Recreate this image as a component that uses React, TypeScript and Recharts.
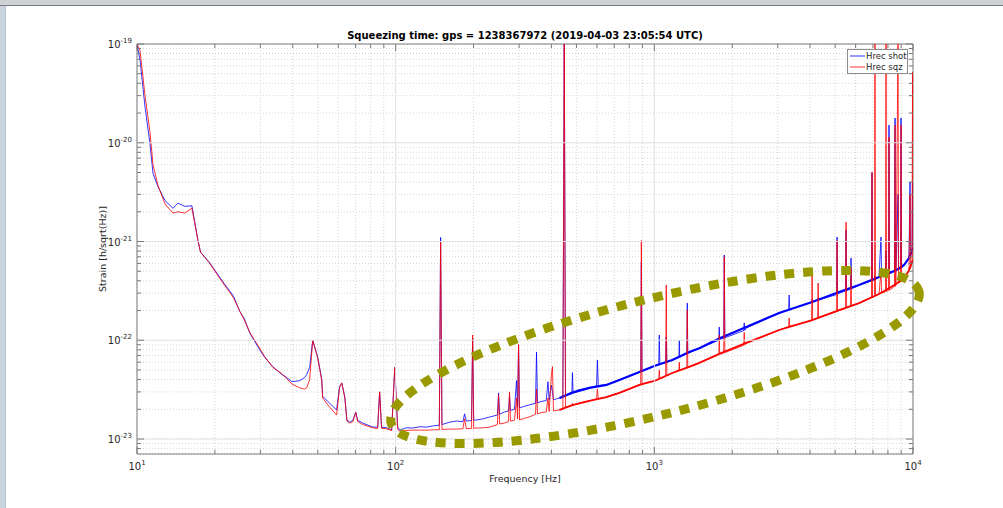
import React from 'react';
import { LineChart, Line, XAxis, YAxis, CartesianGrid, ReferenceArea } from 'recharts';

// Strain ASD: [Hz], shot-noise reference, squeezed
const freqHz = [
  // 10 - 100 Hz
  10, 10.27, 10.74, 11.22, 11.53, 12.05, 12.83, 13.77, 14.4, 15.3,
  16.3, 17.2, 17.6, 19.0, 21.5, 23.6, 25.0, 26.0, 27.3, 29.9,
  31.2, 33.5, 36.3, 37.9, 39.7, 42.6, 44.5, 45.3, 46.5, 47.8,
  50.0, 51.8, 52.2, 55.6, 59.1, 60.7, 61.9, 63.6, 64.8, 66.5,
  68.3, 70.1, 71.3, 74.6, 81.5, 85.2, 86.7, 88.2, 92.2, 96.5,
  99.2, 101.8,
  // 100 - 450 Hz
  103.6, 110, 116.3, 124, 131.7, 140, 147.5, 149.2, 151, 161.6,
  172, 182, 184.7, 187.5, 196.5, 198.4, 200.3, 205.5, 218, 230.7,
  247.5, 249.9, 252.3, 263.6, 273, 275.5, 278, 288, 293.3, 296,
  298.6, 301.2, 315, 330, 347.3, 350.4, 353.5, 365, 382, 388,
  392, 400, 403.9, 407.4, 418, 430, 443, 448.5, 453.5,
  // 450 - 1000 Hz
  466, 480, 482.5, 485, 510, 540, 561, 598, 602.6, 607,
  652.8, 690, 732.6, 800, 875, 886, 890.9, 896, 940, 1000,
  // 1 - 10 kHz
  1040, 1045, 1050, 1106, 1112, 1118, 1173, 1245, 1249, 1253,
  1335, 1341, 1347, 1492, 1775, 1782, 1790, 1855, 1864, 1873,
  2215, 2226, 2237, 2266, 3038, 3305, 3321, 3337, 4055, 4074,
  4093, 4280, 4298, 4316, 5065, 5088, 5110, 5180, 5485, 5511,
  5537, 5735, 5760, 5785, 6186, 6910, 6944, 6975, 7100, 7130,
  7160, 7390, 7522, 7560, 7830, 7864, 7900, 8040, 8077, 8110,
  8480, 8522, 8560, 8598, 8753, 8790, 8950, 8990, 9030, 9234,
  9650, 9738, 9780, 9911, 9960, 10000,
];

const shotAsd = [
  1.0e-19, 6.9e-20, 2.3e-20, 9.9e-21, 4.9e-21, 3.6e-21, 2.6e-21, 2.17e-21, 2.45e-21, 2.27e-21,
  2.3e-21, 1.03e-21, 7.8e-22, 6.2e-22, 3.9e-22, 2.8e-22, 1.95e-22, 1.65e-22, 1.18e-22, 7.9e-23,
  6.7e-23, 5.4e-23, 4.5e-23, 4.2e-23, 3.8e-23, 3.9e-23, 4.2e-23, 4.5e-23, 5.3e-23, 1.0e-22,
  6.7e-23, 4.0e-23, 2.7e-23, 2.3e-23, 1.97e-23, 3.4e-23, 3.7e-23, 2.66e-23, 1.55e-23, 1.48e-23,
  1.55e-23, 1.87e-23, 1.55e-23, 1.45e-23, 1.32e-23, 1.32e-23, 3.0e-23, 1.32e-23, 1.3e-23, 1.23e-23,
  5.3e-23, 1.32e-23,
  1.23e-23, 1.3e-23, 1.29e-23, 1.33e-23, 1.32e-23, 1.36e-23, 1.38e-23, 1.1e-21, 1.4e-23, 1.48e-23,
  1.52e-23, 1.5e-23, 1.8e-23, 1.52e-23, 1.54e-23, 1.05e-22, 1.55e-23, 1.56e-23, 1.6e-23, 1.67e-23,
  1.75e-23, 2.93e-23, 1.78e-23, 1.88e-23, 1.92e-23, 2.7e-23, 1.95e-23, 2.0e-23, 3.9e-23, 2.1e-23,
  9.0e-23, 2.06e-23, 2.15e-23, 2.22e-23, 2.3e-23, 7.6e-23, 2.32e-23, 2.4e-23, 2.45e-23, 3.8e-23,
  2.5e-23, 3.5e-23, 3.0e-23, 2.5e-23, 2.55e-23, 2.6e-23, 2.62e-23, 1.2e-19, 2.8e-23,
  2.85e-23, 2.95e-23, 4.7e-23, 3.0e-23, 3.15e-23, 3.25e-23, 3.3e-23, 3.45e-23, 6.3e-23, 3.47e-23,
  3.55e-23, 3.75e-23, 3.96e-23, 4.3e-23, 4.75e-23, 4.8e-23, 6.2e-22, 4.85e-23, 5.1e-23, 5.5e-23,
  5.7e-23, 1.13e-22, 5.75e-23, 6.0e-23, 1.08e-22, 6.05e-23, 6.3e-23, 6.7e-23, 1.0e-22, 6.75e-23,
  7.3e-23, 2.38e-22, 7.35e-23, 8.3e-23, 1.0e-22, 1.36e-22, 1.02e-22, 1.05e-22, 7.3e-22, 1.06e-22,
  1.25e-22, 1.5e-22, 1.26e-22, 1.33e-22, 1.89e-22, 2.05e-22, 2.87e-22, 2.06e-22, 2.42e-22, 2.6e-22,
  2.45e-22, 2.55e-22, 2.7e-22, 2.56e-22, 2.9e-22, 1.11e-21, 2.92e-22, 3.0e-22, 3.15e-22, 1.31e-21,
  3.18e-22, 3.3e-22, 6.8e-22, 3.32e-22, 3.62e-22, 4.0e-22, 5.0e-21, 4.02e-22, 4.1e-22, 4.5e-22,
  4.12e-22, 4.37e-22, 1.11e-21, 4.4e-22, 4.6e-22, 8.0e-22, 4.62e-22, 4.7e-22, 1.51e-20, 4.72e-22,
  5.0e-22, 1.78e-20, 5.0e-22, 5.1e-22, 3.0e-21, 5.2e-22, 5.3e-22, 1.78e-20, 5.35e-22, 5.8e-22,
  6.8e-22, 4.0e-21, 7.0e-22, 8.2e-22, 4.0e-21, 8.4e-22,
];

const sqzAsd = [
  1.0e-19, 8.6e-20, 3.0e-20, 1.3e-20, 6.0e-21, 3.7e-21, 2.4e-21, 1.94e-21, 2.0e-21, 1.94e-21,
  2.17e-21, 1.03e-21, 7.8e-22, 6.1e-22, 3.8e-22, 2.7e-22, 1.95e-22, 1.6e-22, 1.2e-22, 8.2e-23,
  6.8e-23, 5.3e-23, 4.6e-23, 4.1e-23, 3.6e-23, 3.3e-23, 3.2e-23, 3.3e-23, 4.0e-23, 1.0e-22,
  6.5e-23, 3.9e-23, 2.6e-23, 2.1e-23, 1.75e-23, 3.3e-23, 3.7e-23, 2.6e-23, 1.52e-23, 1.45e-23,
  1.5e-23, 1.85e-23, 1.5e-23, 1.4e-23, 1.3e-23, 1.28e-23, 3.0e-23, 1.28e-23, 1.27e-23, 1.22e-23,
  5.3e-23, 1.25e-23,
  1.2e-23, 1.22e-23, 1.23e-23, 1.23e-23, 1.23e-23, 1.24e-23, 1.24e-23, 1.0e-21, 1.25e-23, 1.26e-23,
  1.26e-23, 1.27e-23, 1.6e-23, 1.27e-23, 1.28e-23, 1.13e-22, 1.28e-23, 1.29e-23, 1.3e-23, 1.32e-23,
  1.4e-23, 2.8e-23, 1.42e-23, 1.45e-23, 1.5e-23, 3.0e-23, 1.52e-23, 1.55e-23, 2.6e-23, 1.6e-23,
  9.0e-23, 1.56e-23, 1.62e-23, 1.68e-23, 1.78e-23, 3.2e-23, 1.8e-23, 1.85e-23, 1.88e-23, 2.6e-23,
  1.9e-23, 4.5e-23, 5.4e-23, 1.92e-23, 1.95e-23, 1.97e-23, 2.0e-23, 1.2e-19, 2.1e-23,
  2.15e-23, 2.2e-23, 2.3e-23, 2.2e-23, 2.3e-23, 2.4e-23, 2.43e-23, 2.55e-23, 3.2e-23, 2.57e-23,
  2.66e-23, 2.8e-23, 2.93e-23, 3.2e-23, 3.5e-23, 3.55e-23, 1.03e-21, 3.6e-23, 3.75e-23, 3.87e-23,
  4.0e-23, 5.0e-23, 4.05e-23, 4.3e-23, 3.62e-22, 4.35e-23, 4.66e-23, 5.0e-23, 6.0e-23, 5.0e-23,
  5.3e-23, 2.02e-22, 5.35e-23, 5.9e-23, 7.1e-23, 1.13e-22, 7.2e-23, 7.4e-23, 7.0e-22, 7.5e-23,
  8.9e-23, 1.2e-22, 9.0e-23, 9.3e-23, 1.27e-22, 1.38e-22, 1.68e-22, 1.39e-22, 1.58e-22, 4.9e-22,
  1.6e-22, 1.68e-22, 3.8e-22, 1.7e-22, 1.95e-22, 1.03e-21, 1.97e-22, 2.0e-22, 2.1e-22, 1.57e-21,
  2.12e-22, 2.2e-22, 5.4e-22, 2.22e-22, 2.38e-22, 2.7e-22, 5.0e-21, 2.72e-22, 2.8e-22, 1.2e-19,
  2.82e-22, 2.95e-22, 5.0e-22, 3.0e-22, 3.1e-22, 1.2e-19, 3.12e-22, 3.2e-22, 1.14e-20, 3.22e-22,
  3.5e-22, 1.51e-20, 3.52e-22, 3.7e-22, 1.2e-19, 3.8e-22, 3.9e-22, 1.51e-20, 3.95e-22, 4.27e-22,
  5.1e-22, 3.0e-21, 5.3e-22, 6.2e-22, 5.2e-20, 6.4e-22,
];

// noise floor above ~430 Hz, drawn thicker (the traces are a dense noisy band there)
const floorHz = [429.8, 482.5, 561, 652.8, 732.6, 875.3, 1000, 1173, 1365, 1492, 1782, 2266, 3038, 4074, 5180, 6186, 7390, 8598, 9234, 9652, 9911, 10000];
const shotFloorAsd = [2.6e-23, 2.95e-23, 3.29e-23, 3.53e-23, 3.96e-23, 4.77e-23, 5.49e-23, 6.3e-23, 7.6e-23, 8.3e-23, 1.04e-22, 1.36e-22, 1.89e-22, 2.44e-22, 3.08e-22, 3.62e-22, 4.37e-22, 5.1e-22, 5.78e-22, 6.8e-22, 8.2e-22, 8.4e-22];
const sqzFloorAsd = [1.97e-23, 2.2e-23, 2.43e-23, 2.66e-23, 2.93e-23, 3.53e-23, 3.87e-23, 4.66e-23, 5.37e-23, 5.9e-23, 7.3e-23, 9.4e-23, 1.27e-22, 1.6e-22, 2.02e-22, 2.38e-22, 2.94e-22, 3.72e-22, 4.27e-22, 5.1e-22, 6.2e-22, 6.4e-22];

const xMajor = [10, 100, 1000, 10000];
const yMajor = [1e-23, 1e-22, 1e-21, 1e-20, 1e-19];
const minorSteps = [2, 3, 4, 5, 6, 7, 8, 9];
const X_DOMAIN: [number, number] = [10, 10000];
const Y_DOMAIN: [number, number] = [7.05e-24, 1e-19];

const xMinor = xMajor.slice(0, -1).flatMap(d => minorSteps.map(m => d * m));
const yMinor = [1e-24, ...yMajor.slice(0, -1)].flatMap(d => minorSteps.map(m => d * m)).filter(v => v > Y_DOMAIN[0]);
const xTicks = [...xMajor, ...xMinor];
const yTicks = [...yMajor, ...yMinor];

const W = 1003;
const H = 508;
const PLOT = { left: 137, top: 44, right: 913, bottom: 454 };
const FONT = '"DejaVu Sans", sans-serif';
const AXIS = '#7a7a7a';
const TEXT = '#262626';

const shotRows = freqHz.map((f, i) => ({ f, v: shotAsd[i] }));
const sqzRows = freqHz.map((f, i) => ({ f, v: sqzAsd[i] }));
const shotFloorRows = floorHz.map((f, i) => ({ f, v: shotFloorAsd[i] }));
const sqzFloorRows = floorHz.map((f, i) => ({ f, v: sqzFloorAsd[i] }));

const exp10 = (v: number) => Math.round(Math.log10(v));

const XTick = ({ x, payload }: any) => {
  const v = payload.value;
  const major = xMajor.includes(v);
  const len = major ? 7 : 4;
  const edge = v === X_DOMAIN[0] || v === X_DOMAIN[1];
  return (
    <g>
      {major && !edge && <line x1={x} x2={x} y1={PLOT.top} y2={PLOT.bottom} stroke="#e3e3e3" />}
      <line x1={x} x2={x} y1={PLOT.bottom} y2={PLOT.bottom - len} stroke={AXIS} />
      <line x1={x} x2={x} y1={PLOT.top} y2={PLOT.top + len} stroke={AXIS} />
      {major && (
        <text x={x} y={PLOT.bottom + 16} textAnchor="middle" fontSize={10} fill={TEXT} fontFamily={FONT}>
          10<tspan dy={-5} fontSize={7}>{exp10(v)}</tspan>
        </text>
      )}
    </g>
  );
};

const YTick = ({ y, payload }: any) => {
  const v = payload.value;
  const major = yMajor.includes(v);
  const len = major ? 7 : 4;
  const edge = v === Y_DOMAIN[1];
  return (
    <g>
      {major && !edge && <line x1={PLOT.left} x2={PLOT.right} y1={y} y2={y} stroke="#e3e3e3" />}
      <line x1={PLOT.left} x2={PLOT.left + len} y1={y} y2={y} stroke={AXIS} />
      <line x1={PLOT.right} x2={PLOT.right - len} y1={y} y2={y} stroke={AXIS} />
      {major && (
        <text x={PLOT.left - 5} y={y + 4} textAnchor="end" fontSize={10} fill={TEXT} fontFamily={FONT}>
          10<tspan dy={-5} fontSize={7}>{exp10(v)}</tspan>
        </text>
      )}
    </g>
  );
};

export default function App() {
  return (
    <div style={{ position: 'absolute', left: 0, top: 0, width: W, height: H, background: '#fff', overflow: 'hidden' }}>
      <div style={{ position: 'absolute', left: 0, top: 0, width: W, height: 5, background: '#cfd2d5', borderBottom: '1px solid #7d7d7d' }} />
      <div style={{ position: 'absolute', left: 0, top: 6, width: 5, height: H - 6, background: '#c9d5e1', borderRight: '1px solid #b8c2cc' }} />

      <div style={{ position: 'absolute', left: 0, top: 0 }}>
        <LineChart
          width={W}
          height={H}
          margin={{ top: PLOT.top, right: W - PLOT.right, bottom: H - PLOT.bottom - 30, left: PLOT.left - 60 }}
        >
          <CartesianGrid stroke="#d6d6d6" strokeDasharray="1 2" />
          <XAxis
            dataKey="f"
            type="number"
            scale="log"
            domain={X_DOMAIN}
            allowDataOverflow
            ticks={xTicks}
            interval={0}
            height={30}
            tickSize={0}
            tickMargin={0}
            tickLine={false}
            axisLine={false}
            tick={(p: any) => <XTick {...p} />}
          />
          <YAxis
            type="number"
            scale="log"
            domain={Y_DOMAIN}
            allowDataOverflow
            ticks={yTicks}
            interval={0}
            width={60}
            tickSize={0}
            tickMargin={0}
            tickLine={false}
            axisLine={false}
            tick={(p: any) => <YTick {...p} />}
          />
          <ReferenceArea x1={X_DOMAIN[0]} x2={X_DOMAIN[1]} y1={Y_DOMAIN[0]} y2={Y_DOMAIN[1]} fill="none" stroke={AXIS} strokeWidth={1} />
          <Line data={shotRows} dataKey="v" name="Hrec shot" stroke="#0000ff" strokeWidth={0.8} dot={false} isAnimationActive={false} type="linear" />
          <Line data={shotFloorRows} dataKey="v" stroke="#0000ff" strokeWidth={2.2} dot={false} isAnimationActive={false} type="linear" legendType="none" />
          <Line data={sqzRows} dataKey="v" name="Hrec sqz" stroke="#ff0000" strokeWidth={0.8} dot={false} isAnimationActive={false} type="linear" />
          <Line data={sqzFloorRows} dataKey="v" stroke="#ff0000" strokeWidth={1.8} dot={false} isAnimationActive={false} type="linear" legendType="none" />
        </LineChart>
      </div>

      <svg width={W} height={H} style={{ position: 'absolute', left: 0, top: 0, pointerEvents: 'none' }}>
        <text x={(PLOT.left + PLOT.right) / 2} y={39} textAnchor="middle" fontSize={10} fontWeight="bold" fill="#000" fontFamily={FONT}>
          Squeezing time: gps = 1238367972 (2019-04-03 23:05:54 UTC)
        </text>
        <text x={(PLOT.left + PLOT.right) / 2} y={482} textAnchor="middle" fontSize={9.5} fill={TEXT} fontFamily={FONT}>
          Frequency [Hz]
        </text>
        <text x={106} y={249} transform="rotate(-90 106 249)" textAnchor="middle" fontSize={9.5} fill={TEXT} fontFamily={FONT}>
          Strain [h/sqrt(Hz)]
        </text>

        <g fontFamily={FONT} fontSize={8.5} fill={TEXT}>
          <rect x={847.5} y={49.5} width={60} height={24} fill="#fff" stroke="#8c8c8c" />
          <line x1={850} x2={865} y1={56} y2={56} stroke="#0000ff" strokeWidth={0.8} />
          <text x={866} y={59}>Hrec shot</text>
          <line x1={850} x2={865} y1={67} y2={67} stroke="#ff0000" strokeWidth={0.8} />
          <text x={866} y={70}>Hrec sqz</text>
        </g>

        <ellipse
          cx={655}
          cy={357}
          rx={272}
          ry={58}
          transform="rotate(-14 655 357)"
          fill="none"
          stroke="#999900"
          strokeWidth={9}
          strokeDasharray="10 9"
        />
      </svg>
    </div>
  );
}
